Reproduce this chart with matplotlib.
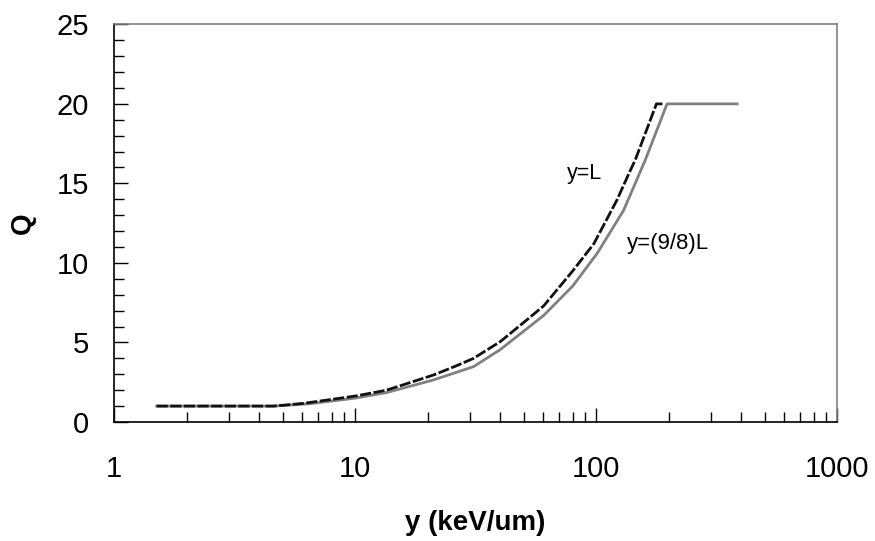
import numpy as np
import matplotlib.pyplot as plt
from matplotlib.ticker import FixedLocator, MultipleLocator, LogLocator, NullFormatter

plt.rcParams['font.family'] = ['Liberation Sans', 'DejaVu Sans']

# Q versus lineal energy
y_L = [1.5, 4.6, 6.1, 8, 10.2, 13.5, 17, 21.1, 26, 31, 40, 50, 60.6, 80,
       97.8, 122, 136.6, 145.6, 178, 192]
q_L = [1, 1, 1.17, 1.42, 1.65, 2.0, 2.49, 2.95, 3.5, 4.0, 5.05, 6.25, 7.3,
       9.5, 11.2, 13.95, 15.6, 16.5, 20, 20]

y_98L = [1.5, 4.6, 6.5, 10, 13.5, 21.1, 31, 40, 60.6, 80, 101, 130, 160,
         197, 385]
q_98L = [1, 1, 1.15, 1.5, 1.85, 2.64, 3.48, 4.55, 6.7, 8.55, 10.6, 13.3,
         16.47, 20, 20]

fig = plt.figure(figsize=(8.75, 5.41), dpi=100)
ax = fig.add_axes([0.1306, 0.22, 0.826, 0.735])

ax.plot(y_98L, q_98L, color='#808080', lw=2.0)
ax.plot(y_L, q_L, color='#111111', lw=2.0, dashes=(4.0, 0.9))

ax.set_xscale('log')
ax.set_xlim(1, 1000)
ax.set_ylim(0, 25)

ax.xaxis.set_major_locator(FixedLocator([1, 10, 100, 1000]))
ax.xaxis.set_minor_locator(LogLocator(base=10, subs=np.arange(2, 10)))
ax.xaxis.set_minor_formatter(NullFormatter())
ax.set_xticklabels(['1', '10', '100', '1000'])
ax.yaxis.set_major_locator(MultipleLocator(5))
ax.yaxis.set_minor_locator(MultipleLocator(1))

ax.tick_params(which='both', direction='in', labelsize=21)
ax.tick_params(which='major', length=10, width=1)
ax.tick_params(which='minor', length=7, width=1)
ax.tick_params(axis='x', which='major', pad=24)
ax.tick_params(axis='y', which='major', pad=18)
ax.tick_params(top=False, right=False, which='both')

for s in ['top', 'right']:
    ax.spines[s].set_color('#808080')
    ax.spines[s].set_linewidth(1.2)
for s in ['left', 'bottom']:
    ax.spines[s].set_color('black')
    ax.spines[s].set_linewidth(1.2)

ax.set_xlabel('y (keV/um)', fontsize=20, fontweight='bold', labelpad=19)
ax.set_ylabel('Q', fontsize=20, fontweight='bold', labelpad=15)

ax.text(76, 15.65, 'y=L', fontsize=15.5, va='center', ha='left')
ax.text(134.6, 11.25, 'y=(9/8)L', fontsize=16, va='center', ha='left')

fig.savefig('out.png', dpi=100)
